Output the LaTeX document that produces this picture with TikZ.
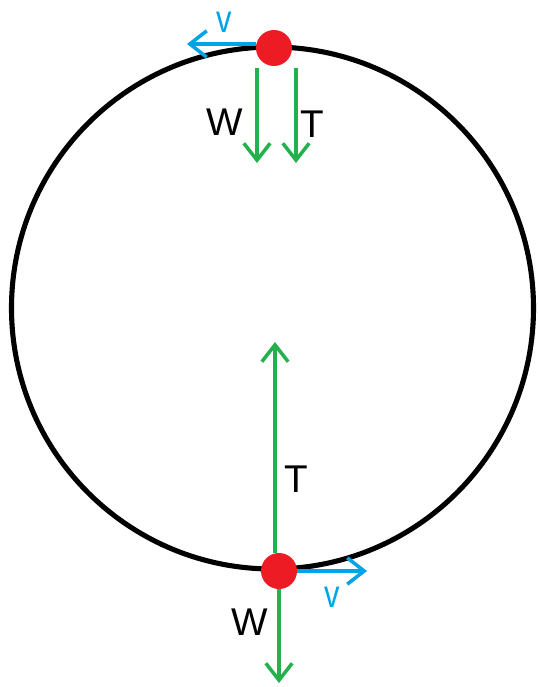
\documentclass[tikz,border=0pt]{standalone}
\usepackage{fontspec}
\newfontfamily\labfont{Liberation Sans}
\usetikzlibrary{arrows.meta,positioning,calc}
\definecolor{forcegreen}{HTML}{22B14C}
\definecolor{velblue}{HTML}{00A2E8}
\definecolor{massred}{HTML}{ED1C24}
\begin{document}
\begin{tikzpicture}[x=0.02cm,y=-0.02cm,>={Straight Barb[length=9.6pt,width=15pt]},font={\labfont\fontsize{22}{24}\selectfont},
  force/.style={->,draw=forcegreen,line width=2pt},
  vel/.style={->,draw=velblue,line width=2pt},
  mass/.style={circle,fill=massred,inner sep=0pt,minimum size=0.72cm},
  lab/.style={anchor=base,inner sep=0pt}]
\useasboundingbox (0,0) rectangle (538,687);
% path of the mass
\draw[line width=2.9pt] (272.5,308) circle[radius=261];
% masses at top and bottom
\node[mass] (top) at (274,48) {};
\node[mass] (bot) at (279,571) {};
% free ends
\coordinate (tv) at (187,44);
\coordinate (tW0) at (257,68);
\coordinate (tW1) at (257,163);
\coordinate (tT0) at (296,68);
\coordinate (tT1) at (296,163);
\coordinate (bT) at (275,342);
\coordinate (bW) at (279,683);
\coordinate (bv) at (367,571);
% top position
\draw[vel] (top.west|-tv) -- (tv);
\draw[force] (tW0) -- (tW1);
\draw[force] (tT0) -- (tT1);
\node[lab] (tWl) at (225,135) {W};
\node[lab] (tTl) at (312,137) {T};
\node[lab,velblue,xscale=.8] (tvl) at (224.5,32) {v};
% bottom position
\draw[force] (bot.north-|bT) -- (bT);
\draw[force] (bot.south) -- (bW);
\draw[vel] (bot.east) -- (bv);
\node[lab] (bTl) at (296,492) {T};
\node[lab] (bWl) at (250,635) {W};
\node[lab,velblue,xscale=.8] (bvl) at (332,607) {v};
\end{tikzpicture}
\end{document}
